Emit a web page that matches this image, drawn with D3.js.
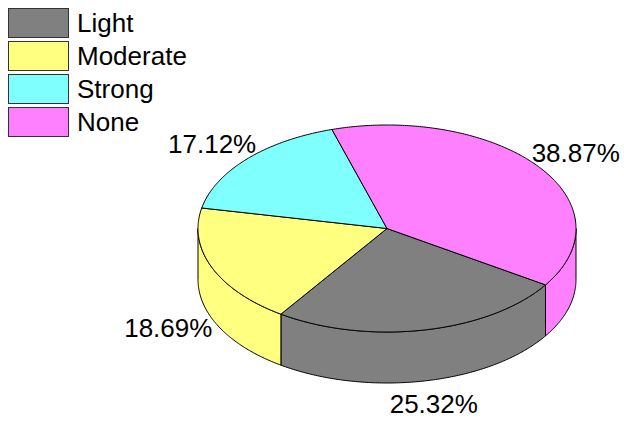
<!DOCTYPE html>
<html>
<head>
<meta charset="utf-8">
<script src="https://cdn.jsdelivr.net/npm/d3@7"></script>
<style>
  html, body { margin: 0; padding: 0; background: #fff; }
  svg { display: block; }
  text { font-family: Arial, "Liberation Sans", sans-serif; fill: #000; }
</style>
</head>
<body>
<svg id="chart" width="624" height="423"></svg>
<script>
// Share of responses per intensity level
const categories = ["Light", "Moderate", "Strong", "None"];
const shares = [25.32, 18.69, 17.12, 38.87];
const colors = ["#808080", "#FFFF80", "#80FFFF", "#FF80FF"];

const W = 624, H = 423;
const svg = d3.select("#chart");

// 3D pie geometry: elliptical top face and a vertical rim
const cx = 387, cy = 228.5, rx = 189, ry = 103.5, depth = 51;
const startOffset = 33 * Math.PI / 180; // first slice starts below the right edge

const pie = d3.pie().sort(null).value(d => d);
const arcs = pie(shares).map((a, i) => ({
  i,
  t0: a.startAngle + startOffset,
  t1: a.endAngle + startOffset,
  value: a.value
}));

const ptTop = t => [cx + rx * Math.cos(t), cy + ry * Math.sin(t)];
const ptBot = t => [cx + rx * Math.cos(t), cy + depth + ry * Math.sin(t)];

function sample(t0, t1, f) {
  const n = Math.max(2, Math.ceil(Math.abs(t1 - t0) / 0.01));
  return d3.range(n + 1).map(k => f(t0 + (t1 - t0) * k / n));
}

const line = d3.line().curve(d3.curveLinear);

// Rim: only the front half (screen angle 0..PI, modulo 2PI) is visible
const sideG = svg.append("g");
arcs.forEach(a => {
  [[0, Math.PI], [2 * Math.PI, 3 * Math.PI]].forEach(([lo, hi]) => {
    const s0 = Math.max(a.t0, lo), s1 = Math.min(a.t1, hi);
    if (s1 - s0 <= 1e-6) return;
    const pts = sample(s0, s1, ptTop).concat(sample(s1, s0, ptBot));
    sideG.append("path")
      .attr("d", line(pts) + "Z")
      .attr("fill", colors[a.i])
      .attr("stroke", "#000")
      .attr("stroke-width", 1)
      .attr("stroke-linejoin", "round");
  });
});

// Top face slices
const topG = svg.append("g");
arcs.forEach(a => {
  const pts = [[cx, cy]].concat(sample(a.t0, a.t1, ptTop));
  topG.append("path")
    .attr("d", line(pts) + "Z")
    .attr("fill", colors[a.i])
    .attr("stroke", "#000")
    .attr("stroke-width", 1)
    .attr("stroke-linejoin", "round");
});

// Percentage labels placed outward along each slice's mid angle
const labelG = svg.append("g");
arcs.forEach(a => {
  const m = (a.t0 + a.t1) / 2;
  const s = Math.sin(m), c = Math.cos(m);
  const x = cx + 1.25 * rx * c;
  const y = cy + 1.22 * ry * s + (s > 0 ? depth : 0);
  labelG.append("text")
    .attr("x", x)
    .attr("y", y + 9.5)
    .attr("text-anchor", "middle")
    .attr("font-size", 26)
    .text(a.value.toFixed(2) + "%");
});

// Legend
const legend = svg.append("g").attr("transform", "translate(8,8)");
categories.forEach((name, i) => {
  const g = legend.append("g").attr("transform", `translate(0,${i * 33})`);
  g.append("rect")
    .attr("x", 0.5).attr("y", 0.5)
    .attr("width", 60).attr("height", 29)
    .attr("fill", colors[i])
    .attr("stroke", "#333")
    .attr("stroke-width", 1);
  g.append("text")
    .attr("x", 69)
    .attr("y", 24)
    .attr("font-size", 26)
    .text(name);
});
</script>
</body>
</html>
